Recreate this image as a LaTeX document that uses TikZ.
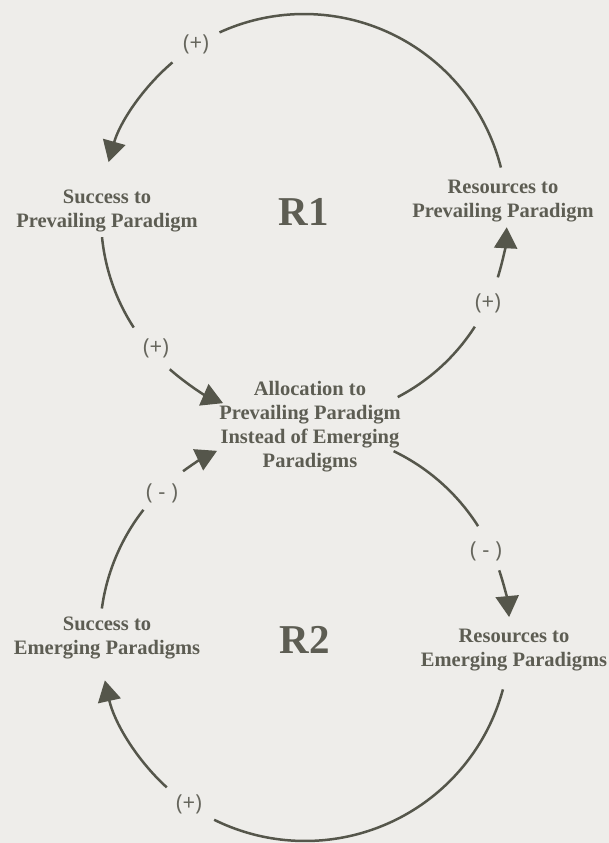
\documentclass[tikz,border=0pt]{standalone}
\usepackage{fontspec}
\setmainfont{Liberation Serif}
\newfontfamily\signfont{Open Sans}
\usetikzlibrary{arrows.meta,calc}
\definecolor{paper}{HTML}{EEEDEA}
\definecolor{ink}{HTML}{55564B}
\definecolor{label}{HTML}{5D5D53}
\definecolor{signink}{HTML}{66665D}
\begin{document}
\begin{tikzpicture}[x=1pt,y=-1pt,
  link/.style={draw=ink,line width=2.5pt},
  flow/.style={link,-{Triangle[length=21pt,width=23pt]}},
  var/.style={text=label,font=\fontsize{20.5}{24}\selectfont\bfseries,align=center,inner sep=0pt},
  loopname/.style={text=label,font=\fontsize{41}{41}\selectfont\bfseries,inner sep=0pt},
  sign/.style={text=signink,font=\signfont\fontsize{22}{22}\selectfont,inner sep=0pt}]

% canvas
\fill[paper] (0,0) rectangle (609,843);
\useasboundingbox (0,0) rectangle (609,843);

% loop centres
\coordinate (c1) at (304,217);
\coordinate (c2) at (305,636);

% variables
\node[var] (sp) at (107,211) {Success to\\Prevailing Paradigm};
\node[var] (rp) at (503,201) {Resources to\\Prevailing Paradigm};
\node[var] (alloc) at (310,427) {Allocation to\\Prevailing Paradigm\\Instead of Emerging\\Paradigms};
\node[var] (se) at (107,638) {Success to\\Emerging Paradigms};
\node[var] (re) at (514,650) {Resources to\\Emerging Paradigms};

% loop names
\node[loopname] (r1) at (304,212) {R1};
\node[loopname] (r2) at (305,640) {R2};

% polarity signs
\node[sign] (s1) at (196,44) {(+)};
\node[sign] (s2) at (156,348) {(+)};
\node[sign] (s3) at (488,303) {(+)};
\node[sign] (s4) at (162,493) {( - )};
\node[sign] (s5) at (486,551) {( - )};
\node[sign] (s6) at (189,804) {(+)};

% R1 loop
\draw[link] ($(c1)+(-14.1:203)$) arc[start angle=-14.1,end angle=-114.6,radius=203];
\draw[flow] ($(c1)+(-130.4:203)$) arc[start angle=-130.4,end angle=-164.3,radius=203];
\draw[link] ($(c1)+(174.3:203)$) arc[start angle=174.3,end angle=147,radius=203];
\draw[flow] ($(c1)+(131.4:203)$) arc[start angle=131.4,end angle=113.5,radius=203];
\draw[link] ($(c1)+(62.5:203)$) arc[start angle=62.5,end angle=32.7,radius=203];
\draw[flow] ($(c1)+(17.3:203)$) arc[start angle=17.3,end angle=2.9,radius=203];

% R2 loop
\draw[link] ($(c2)+(-64.4:205)$) arc[start angle=-64.4,end angle=-32.4,radius=205];
\draw[flow] ($(c2)+(-18.7:205)$) arc[start angle=-18.7,end angle=-5.3,radius=205];
\draw[link] ($(c2)+(15.1:205)$) arc[start angle=15.1,end angle=116.3,radius=205];
\draw[flow] ($(c2)+(132.4:205)$) arc[start angle=132.4,end angle=167.5,radius=205];
\draw[link] ($(c2)+(187.7:205)$) arc[start angle=187.7,end angle=218,radius=205];
\draw[flow] ($(c2)+(233.5:205)$) arc[start angle=233.5,end angle=244.6,radius=205];
\end{tikzpicture}
\end{document}
